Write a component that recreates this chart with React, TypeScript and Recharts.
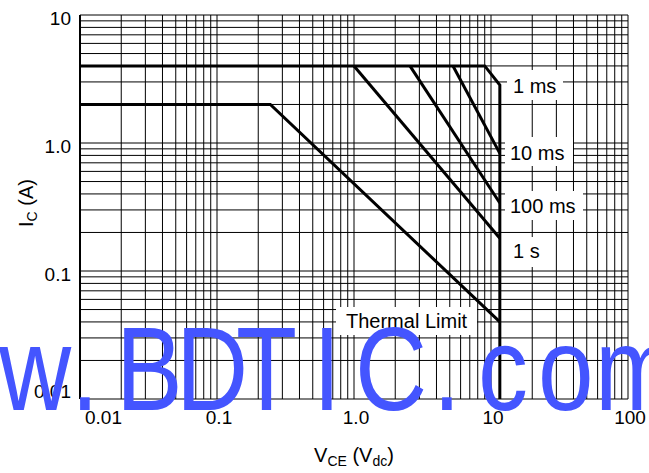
import React from 'react';
import { LineChart, Line, XAxis, YAxis, CartesianGrid } from 'recharts';

// Safe operating area, log-log
const xTicks = [
  0.01, 0.02, 0.03, 0.04, 0.05, 0.06, 0.07, 0.08, 0.09,
  0.1, 0.2, 0.3, 0.4, 0.5, 0.6, 0.7, 0.8, 0.9,
  1, 2, 3, 4, 5, 6, 7, 8, 9,
  10, 20, 30, 40, 50, 60, 70, 80, 90, 100,
];
const yTicks = [
  0.01, 0.02, 0.03, 0.04, 0.05, 0.06, 0.07, 0.08, 0.09,
  0.1, 0.2, 0.3, 0.4, 0.5, 0.6, 0.7, 0.8, 0.9,
  1, 2, 3, 4, 5, 6, 7, 8, 9, 10,
];
const xLabels: Record<string, string> = { '0.01': '0.01', '0.1': '0.1', '1': '1.0', '10': '10', '100': '100' };
const yLabels: Record<string, string> = { '0.01': '0.01', '0.1': '0.1', '1': '1.0', '10': '10' };

// outer limit incl. 1 ms corner and VCEO
const limit1ms = [
  { v: 0.01, i: 4 },
  { v: 9.0, i: 4 },
  { v: 11.6, i: 2.84 },
  { v: 11.6, i: 0.01 },
];
const limit10ms = [
  { v: 5.28, i: 4 },
  { v: 11.6, i: 0.83 },
];
const limit100ms = [
  { v: 2.56, i: 4 },
  { v: 11.6, i: 0.34 },
];
const limit1s = [
  { v: 1.0, i: 4 },
  { v: 11.6, i: 0.18 },
];
const limitDC = [
  { v: 0.01, i: 2 },
  { v: 0.245, i: 2 },
  { v: 11.6, i: 0.04 },
];

const FONT = '"Liberation Sans", Arial, Helvetica, sans-serif';

const XTick = (props: any) => {
  const { x, y, payload } = props;
  const label = xLabels[String(payload.value)];
  if (!label) return null;
  const first = payload.value === 0.01;
  return (
    <text
      x={first ? x + 5 : x + 2}
      y={y + 25}
      textAnchor={first ? 'start' : 'middle'}
      fontSize={19}
      fontFamily={FONT}
      fill="#000"
    >
      {label}
    </text>
  );
};

const YTick = (props: any) => {
  const { x, y, payload } = props;
  const label = yLabels[String(payload.value)];
  if (!label) return null;
  const dy = payload.value === 0.01 ? -1 : 10;
  return (
    <text x={x - 9} y={y + dy} textAnchor="end" fontSize={19} fontFamily={FONT} fill="#000">
      {label}
    </text>
  );
};

const notes = [
  { text: '1 ms', box: [507, 70, 56, 30], tx: 513, ty: 93 },
  { text: '10 ms', box: [505, 137, 68, 29], tx: 510, ty: 160 },
  { text: '100 ms', box: [505, 191, 78, 29], tx: 510, ty: 213 },
  { text: '1 s', box: [505, 237, 43, 30], tx: 513, ty: 258 },
  { text: 'Thermal Limit', box: [336, 307, 141, 28], tx: 346, ty: 328 },
];

// watermark glyph starts (px), glyphs squeezed horizontally
const wmChars = 'www.BDTIC.com';
const wmX = [-147, -74, -1, 71, 116, 176, 236, 313, 355, 433, 478, 538, 595];
const wmScale = 0.84;

export default function App() {
  return (
    <div style={{ position: 'absolute', left: 0, top: 0, width: 649, height: 473, background: '#fff' }}>
      <LineChart width={649} height={473} margin={{ top: 15, right: 21, bottom: 34, left: 0 }}>
        <CartesianGrid stroke="#000" strokeWidth={1} strokeOpacity={1} />
        <XAxis
          dataKey="v"
          type="number"
          scale="log"
          domain={[0.01, 100]}
          ticks={xTicks}
          interval={0}
          height={40}
          tickLine={false}
          axisLine={false}
          tickSize={0}
          tickMargin={0}
          tick={<XTick />}
          allowDataOverflow
        />
        <YAxis
          dataKey="i"
          type="number"
          scale="log"
          domain={[0.01, 10]}
          ticks={yTicks}
          interval={0}
          width={80}
          tickLine={false}
          axisLine={{ stroke: '#000', strokeWidth: 2 }}
          tickSize={0}
          tickMargin={0}
          tick={<YTick />}
          allowDataOverflow
        />
        <Line data={limitDC} dataKey="i" type="linear" stroke="#000" strokeWidth={3} dot={false} isAnimationActive={false} />
        <Line data={limit1s} dataKey="i" type="linear" stroke="#000" strokeWidth={3} dot={false} isAnimationActive={false} />
        <Line data={limit100ms} dataKey="i" type="linear" stroke="#000" strokeWidth={3} dot={false} isAnimationActive={false} />
        <Line data={limit10ms} dataKey="i" type="linear" stroke="#000" strokeWidth={3} dot={false} isAnimationActive={false} />
        <Line data={limit1ms} dataKey="i" type="linear" stroke="#000" strokeWidth={3} dot={false} isAnimationActive={false} strokeLinejoin="miter" />
      </LineChart>
      <svg
        width={649}
        height={473}
        style={{ position: 'absolute', left: 0, top: 0, pointerEvents: 'none' }}
        fontFamily={FONT}
      >
        {notes.map((n) => (
          <g key={n.text}>
            <rect x={n.box[0]} y={n.box[1]} width={n.box[2]} height={n.box[3]} fill="#fff" />
            <text x={n.tx} y={n.ty} fontSize={20} fill="#000">
              {n.text}
            </text>
          </g>
        ))}
        <text x={354} y={462} textAnchor="middle" fontSize={20} fill="#000">
          V<tspan fontSize={14} dy={4}>CE</tspan>
          <tspan dy={-4}> (V</tspan>
          <tspan fontSize={14} dy={4}>dc</tspan>
          <tspan dy={-4}>)</tspan>
        </text>
        <text transform="translate(33,203) rotate(-90)" textAnchor="middle" fontSize={20} fill="#000">
          I<tspan fontSize={14} dy={4}>C</tspan>
          <tspan dy={-4}> (A)</tspan>
        </text>
        <text
          transform={`scale(${wmScale},1)`}
          x={wmX.map((v) => v / wmScale).join(' ')}
          y={410}
          fontSize={119}
          fill="#4455ff"
        >
          {wmChars}
        </text>
      </svg>
    </div>
  );
}
